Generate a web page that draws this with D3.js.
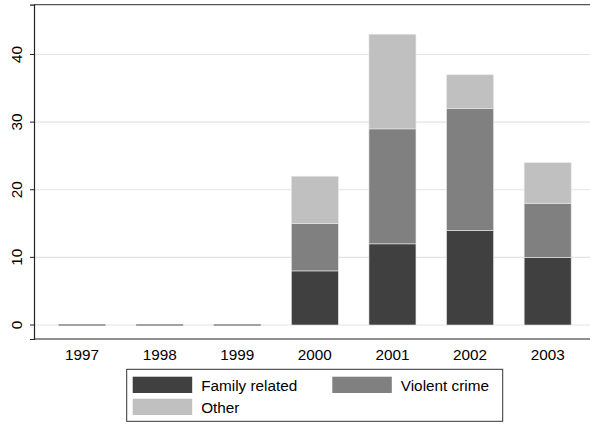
<!DOCTYPE html>
<html><head><meta charset="utf-8">
<script src="https://cdn.jsdelivr.net/npm/d3@7"></script>
<style>body{margin:0;background:#fff;}svg{display:block;font-family:"Liberation Sans",Arial,sans-serif;}</style>
</head><body>
<svg id="c" width="590" height="424"></svg>
<script>
const years = ["1997","1998","1999","2000","2001","2002","2003"];
const familyRelated = [0,0,0,8,12,14,10];
const violentCrime = [0,0,0,7,17,18,8];
const other = [0,0,0,7,14,5,6];
const seriesNames = ["Family related","Violent crime","Other"];
const seriesColors = ["#404040","#808080","#c0c0c0"];
const yTicks = [0,10,20,30,40];

const svg = d3.select("#c");
const x = d3.scaleBand().domain(years).range([34,595.7]).paddingInner(0.394).paddingOuter(0.316);
const y = d3.scaleLinear().domain([-2.07,47.36]).range([339,4.7]);
const FS = 15.3;

// gridlines
svg.append("g").selectAll("line").data(yTicks).join("line")
  .attr("x1",34).attr("x2",596).attr("y1",d=>y(d)).attr("y2",d=>y(d))
  .attr("stroke","#e3e3e3").attr("stroke-width",1.2);

const rows = years.map((yr,i)=>({year:yr,"Family related":familyRelated[i],"Violent crime":violentCrime[i],"Other":other[i]}));
const stacked = d3.stack().keys(seriesNames)(rows);

const g = svg.append("g");
stacked.forEach((s,si)=>{
  g.selectAll(null).data(s).join("rect")
    .attr("x",d=>x(d.data.year)).attr("width",x.bandwidth())
    .attr("y",d=>y(d[1])).attr("height",d=>Math.max(0,y(d[0])-y(d[1])))
    .attr("fill",seriesColors[si])
    .attr("stroke",d=>(d[1]-d[0])>0?"#e8e8e8":"none").attr("stroke-width",0.6);
});
// zero-height bars drawn as lines
g.selectAll(null).data(rows.filter(r=>r["Family related"]+r["Violent crime"]+r["Other"]===0)).join("line")
  .attr("x1",d=>x(d.year)).attr("x2",d=>x(d.year)+x.bandwidth())
  .attr("y1",y(0)).attr("y2",y(0)).attr("stroke","#555").attr("stroke-width",1.2);

// frame top
svg.append("line").attr("x1",34).attr("x2",596).attr("y1",4.7).attr("y2",4.7).attr("stroke","#555").attr("stroke-width",1.3);

// y axis
const ya = svg.append("g").attr("transform","translate(34,0)")
  .call(d3.axisLeft(y).tickValues(yTicks).tickSize(4).tickPadding(6));
ya.select(".domain").attr("stroke","#222").attr("stroke-width",1.2);
ya.selectAll(".tick line").attr("stroke","#222");
ya.selectAll(".tick").attr("transform",null);
ya.selectAll(".tick line").attr("transform",d=>`translate(0,${y(d)})`);
ya.selectAll(".tick text").attr("font-size",FS).attr("fill","#000").attr("font-family","Liberation Sans, Arial, sans-serif")
  .attr("x",0).attr("y",0).attr("dy",0)
  .attr("text-anchor","middle")
  .attr("transform",d=>`translate(-12,${y(d)}) rotate(-90)`);

// x axis
const xa = svg.append("g").attr("transform","translate(0,339)")
  .call(d3.axisBottom(x).tickSize(0).tickPadding(8));
xa.select(".domain").attr("stroke","#222").attr("stroke-width",1.2).attr("d","M34,0H596");
xa.selectAll(".tick text").attr("font-size",FS).attr("fill","#000").attr("font-family","Liberation Sans, Arial, sans-serif").attr("dy","0.88em");

// legend
const lg = svg.append("g");
lg.append("rect").attr("x",126.7).attr("y",369.3).attr("width",376).attr("height",52)
  .attr("fill","#fff").attr("stroke","#333").attr("stroke-width",1);
const legPos = [{x:132.7,y:376.7},{x:332.3,y:376.7},{x:132.7,y:398.7}];
seriesNames.forEach((n,i)=>{
  lg.append("rect").attr("x",legPos[i].x).attr("y",legPos[i].y).attr("width",59.5).attr("height",16.3).attr("fill",seriesColors[i]);
  lg.append("text").attr("x",legPos[i].x+68.5).attr("y",legPos[i].y+14).attr("font-size",FS).attr("fill","#000").text(n);
});
</script>
</body></html>
